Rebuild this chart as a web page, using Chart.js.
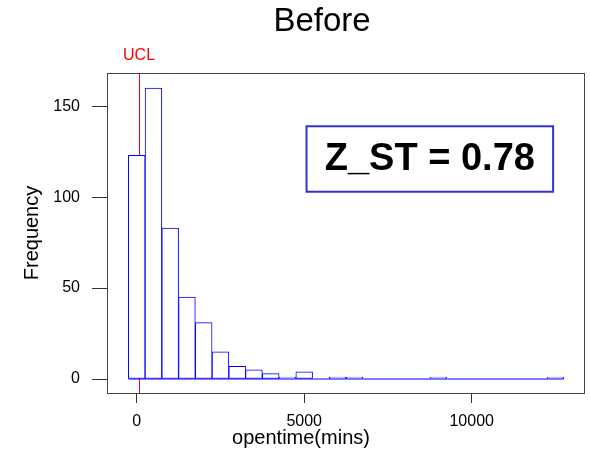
<!DOCTYPE html>
<html>
<head>
<meta charset="utf-8">
<script src="https://cdn.jsdelivr.net/npm/chart.js@4.4.0/dist/chart.umd.min.js"></script>
<style>
  html, body { margin: 0; padding: 0; background: #fff; }
  #wrap { width: 590px; height: 451px; }
</style>
</head>
<body>
<div id="wrap"><canvas id="hist" width="590" height="451"></canvas></div>
<script>
// histogram bins (centre of each bin, width 500 mins)
const binCenters = [0, 500, 1000, 1500, 2000, 2500, 3000, 3500, 4000, 4500, 5000, 5500, 6000, 6500,
  7000, 7500, 8000, 8500, 9000, 9500, 10000, 10500, 11000, 11500, 12000, 12500];
const counts = [123, 160, 83, 45, 31, 15, 7, 5, 3, 1, 4, 0, 1, 1,
  0, 0, 0, 0, 1, 0, 0, 0, 0, 0, 0, 1];
const binWidth = 500;
const xTickValues = [0, 5000, 10000];
const yTickValues = [0, 50, 100, 150];
const uclValue = 70;
const zstLabel = "Z_ST = 0.78";
const zstBox = [5070, 12430, 103, 139]; // xFrom, xTo, yFrom, yTo in data units

const histData = binCenters.map((c, i) => ({ x: c, y: counts[i] }));
const baseLine = [
  { x: binCenters[0] - binWidth / 2, y: 0 },
  { x: binCenters[binCenters.length - 1] + binWidth / 2, y: 0 },
];

// UCL line goes under the bars
const uclLine = {
  id: "uclLine",
  beforeDatasetsDraw(chart) {
    const ctx = chart.ctx;
    const area = chart.chartArea;
    const px = Math.round(chart.scales.x.getPixelForValue(uclValue)) + 0.5;
    ctx.save();
    ctx.strokeStyle = "#ff0000";
    ctx.lineWidth = 1;
    ctx.beginPath();
    ctx.moveTo(px, area.top);
    ctx.lineTo(px, area.bottom);
    ctx.stroke();
    ctx.restore();
  },
};

// plot box, titles, Z_ST box
const extras = {
  id: "extras",
  afterDraw(chart) {
    const ctx = chart.ctx;
    const area = chart.chartArea;
    const xs = chart.scales.x;
    const ys = chart.scales.y;
    ctx.save();

    // box round the plot
    ctx.strokeStyle = "#444";
    ctx.lineWidth = 1;
    ctx.strokeRect(Math.round(area.left) + 0.5, Math.round(area.top) + 0.5,
      Math.round(area.right - area.left) - 1, Math.round(area.bottom - area.top));

    // UCL label
    ctx.fillStyle = "#ff0000";
    ctx.font = "16px 'Liberation Sans', Arial, sans-serif";
    ctx.textAlign = "center";
    ctx.textBaseline = "middle";
    ctx.fillText("UCL", xs.getPixelForValue(uclValue), area.top - 17);

    // main title
    ctx.fillStyle = "#000";
    ctx.font = "33px 'Liberation Sans', Arial, sans-serif";
    ctx.fillText("Before", 322, 22);

    // x axis title
    ctx.font = "20px 'Liberation Sans', Arial, sans-serif";
    ctx.fillText("opentime(mins)", 301, 438);

    // Z_ST box
    const bx1 = xs.getPixelForValue(zstBox[0]);
    const bx2 = xs.getPixelForValue(zstBox[1]);
    const by1 = ys.getPixelForValue(zstBox[3]);
    const by2 = ys.getPixelForValue(zstBox[2]);
    ctx.fillStyle = "#fff";
    ctx.fillRect(bx1, by1, bx2 - bx1, by2 - by1);
    ctx.strokeStyle = "#3333cc";
    ctx.lineWidth = 2;
    ctx.strokeRect(bx1, by1, bx2 - bx1, by2 - by1);
    ctx.fillStyle = "#000";
    ctx.font = "bold 38px 'Liberation Sans', Arial, sans-serif";
    ctx.fillText(zstLabel, (bx1 + bx2) / 2, (by1 + by2) / 2 + 1);

    ctx.restore();
  },
};

const ctx = document.getElementById("hist").getContext("2d");
new Chart(ctx, {
  type: "bar",
  data: {
    datasets: [
      {
        label: "Frequency",
        data: histData,
        backgroundColor: "rgb(255, 255, 255)",
        borderColor: "#0000ff",
        borderWidth: 1,
        borderSkipped: false,
        barPercentage: 1,
        categoryPercentage: 1,
        order: 1,
      },
      {
        type: "line",
        data: baseLine,
        borderColor: "#0000ff",
        borderWidth: 1,
        pointRadius: 0,
        order: 2,
      },
    ],
  },
  options: {
    responsive: false,
    animation: false,
    layout: { padding: { top: 73, right: 5, left: 0, bottom: 0 } },
    plugins: {
      legend: { display: false },
      tooltip: { enabled: false },
    },
    scales: {
      x: {
        type: "linear",
        offset: false,
        min: -887,
        max: 13382,
        afterBuildTicks: (scale) => {
          scale.ticks = xTickValues.map((v) => ({ value: v }));
        },
        afterFit: (scale) => {
          scale.height = 58;
        },
        grid: { offset: false, drawOnChartArea: false, tickLength: 10, color: "#333" },
        border: { display: false },
        ticks: {
          color: "#000",
          padding: 9,
          maxRotation: 0,
          callback: (v) => String(v),
          font: { family: "'Liberation Sans', Arial, sans-serif", size: 16 },
        },
      },
      y: {
        min: -7.7,
        max: 168.3,
        afterBuildTicks: (scale) => {
          scale.ticks = yTickValues.map((v) => ({ value: v }));
        },
        afterFit: (scale) => {
          scale.width = 107;
        },
        grid: { drawOnChartArea: false, tickLength: 15, color: "#333" },
        border: { display: false },
        ticks: {
          color: "#000",
          padding: 12,
          callback: (v) => String(v),
          font: { family: "'Liberation Sans', Arial, sans-serif", size: 16 },
        },
        title: {
          display: true,
          text: "Frequency",
          color: "#000",
          padding: { top: 20, bottom: 0 },
          font: { family: "'Liberation Sans', Arial, sans-serif", size: 20 },
        },
      },
    },
  },
  plugins: [uclLine, extras],
});
</script>
</body>
</html>
